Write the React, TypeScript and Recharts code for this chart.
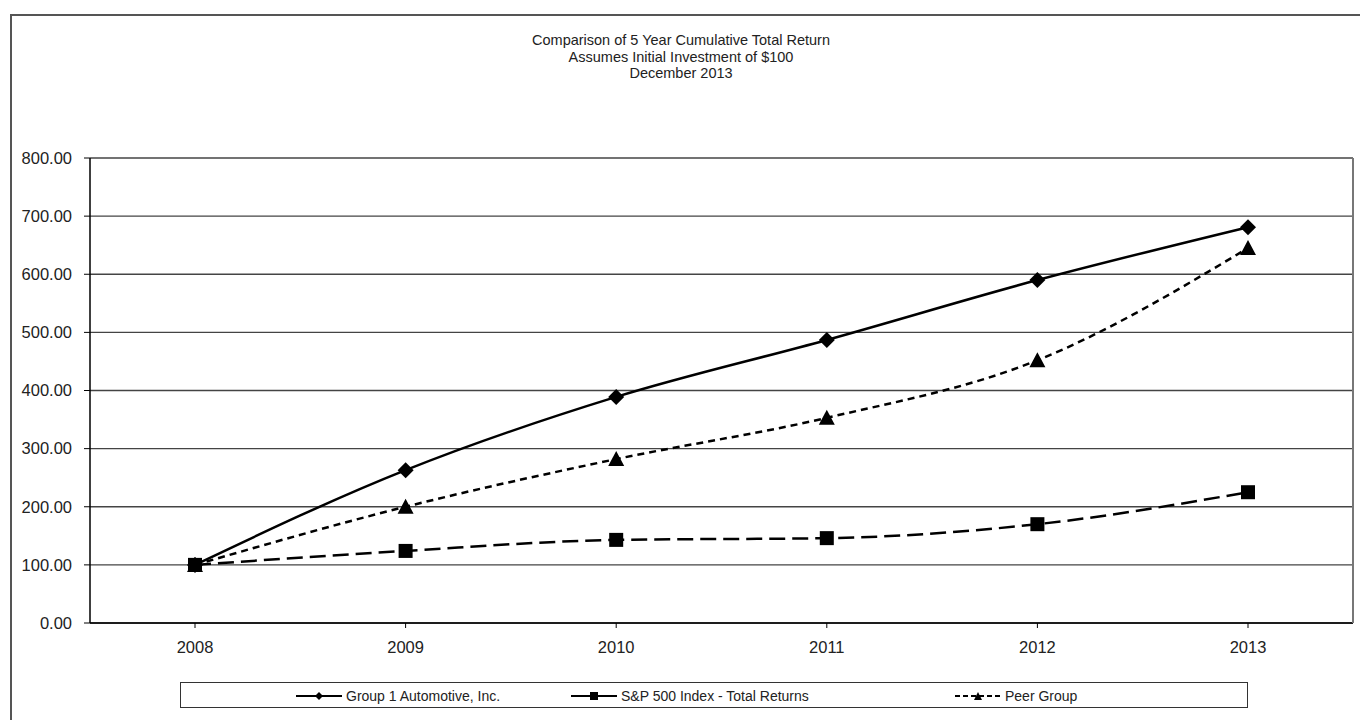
import { LineChart, Line, XAxis, YAxis, CartesianGrid } from "recharts";

const years = ["2008", "2009", "2010", "2011", "2012", "2013"];
const groupOne = [100, 263, 389, 487, 590, 681];
const sp500 = [100, 124, 143, 146, 170, 225];
const peerGroup = [100, 200, 282, 353, 452, 645];
const yTicks = [0, 100, 200, 300, 400, 500, 600, 700, 800];

const data = years.map((year, i) => ({
  year,
  group: groupOne[i],
  sp: sp500[i],
  peer: peerGroup[i],
}));

const font = "'Liberation Sans', Arial, sans-serif";

const Diamond = (props: any) => {
  const { cx, cy } = props;
  if (cx == null || cy == null) return null;
  const r = 8;
  return (
    <path
      d={`M${cx},${cy - r}L${cx + r},${cy}L${cx},${cy + r}L${cx - r},${cy}Z`}
      fill="#000"
    />
  );
};

const Square = (props: any) => {
  const { cx, cy } = props;
  if (cx == null || cy == null) return null;
  const s = 7;
  return <rect x={cx - s} y={cy - s} width={s * 2} height={s * 2} fill="#000" />;
};

const Triangle = (props: any) => {
  const { cx, cy } = props;
  if (cx == null || cy == null) return null;
  const r = 8;
  return (
    <path
      d={`M${cx},${cy - r}L${cx + r},${cy + r - 1}L${cx - r},${cy + r - 1}Z`}
      fill="#000"
    />
  );
};

const LegendSample = ({ dash, marker }: { dash?: string; marker: string }) => (
  <svg width={46} height={12} style={{ marginRight: 4 }}>
    <line x1={0} y1={6} x2={46} y2={6} stroke="#000" strokeWidth={2} strokeDasharray={dash} />
    {marker === "diamond" && <path d="M23,2L27,6L23,10L19,6Z" fill="#000" />}
    {marker === "square" && <rect x={19} y={2} width={8} height={8} fill="#000" />}
    {marker === "triangle" && <path d="M23,2L27,10L19,10Z" fill="#000" />}
  </svg>
);

export default function App() {
  return (
    <div style={{ position: "absolute", left: 0, top: 0, width: 1360, height: 720, fontFamily: font, background: "#fff" }}>
      <div
        style={{
          position: "absolute",
          left: 10,
          top: 14,
          width: 1360,
          height: 710,
          border: "2px solid #555",
          boxSizing: "border-box",
        }}
      />
      <div
        style={{
          position: "absolute",
          left: 0,
          top: 32,
          width: 1362,
          textAlign: "center",
          fontSize: 14.5,
          lineHeight: "16.5px",
          color: "#222",
        }}
      >
        <div>Comparison of 5 Year Cumulative Total Return</div>
        <div>Assumes Initial Investment of $100</div>
        <div>December 2013</div>
      </div>
      <LineChart
        width={1360}
        height={720}
        data={data}
        margin={{ top: 158, right: 6, left: 10, bottom: 67 }}
        style={{ position: "absolute", left: 0, top: 0 }}
      >
        <CartesianGrid vertical={false} stroke="#444" strokeWidth={1.3} />
        <XAxis
          dataKey="year"
          padding={{ left: 105, right: 105 }}
          axisLine={{ stroke: "#000", strokeWidth: 1.5 }}
          tickLine={{ stroke: "#000" }}
          tickSize={5}
          tickMargin={13}
          height={30}
          tick={{ fill: "#222", fontSize: 16.5, fontFamily: font }}
        />
        <YAxis
          domain={[0, 800]}
          ticks={yTicks}
          width={80}
          tickFormatter={(v: number) => v.toFixed(2)}
          axisLine={{ stroke: "#000", strokeWidth: 1.5 }}
          tickLine={{ stroke: "#000" }}
          tickSize={6}
          tickMargin={12}
          tick={{ fill: "#222", fontSize: 16.5, fontFamily: font }}
        />
        <YAxis
          yAxisId="right"
          orientation="right"
          domain={[0, 800]}
          width={1}
          tick={false}
          tickLine={false}
          axisLine={{ stroke: "#777", strokeWidth: 2 }}
        />
        <Line
          type="monotone"
          dataKey="sp"
          stroke="#000"
          strokeWidth={2.5}
          strokeDasharray="16 7"
          dot={<Square />}
          isAnimationActive={false}
        />
        <Line
          type="monotone"
          dataKey="peer"
          stroke="#000"
          strokeWidth={2.5}
          strokeDasharray="7 5"
          dot={<Triangle />}
          isAnimationActive={false}
        />
        <Line
          type="monotone"
          dataKey="group"
          stroke="#000"
          strokeWidth={2.5}
          dot={<Diamond />}
          isAnimationActive={false}
        />
      </LineChart>
      <div
        style={{
          position: "absolute",
          left: 180,
          top: 682,
          width: 1068,
          height: 26,
          border: "1.5px solid #333",
          boxSizing: "border-box",
          fontSize: 14,
          color: "#222",
        }}
      >
        <div style={{ position: "absolute", left: 115, top: 5, display: "flex", alignItems: "center" }}>
          <LegendSample marker="diamond" />
          <span>Group 1 Automotive, Inc.</span>
        </div>
        <div style={{ position: "absolute", left: 390, top: 5, display: "flex", alignItems: "center" }}>
          <LegendSample marker="square" />
          <span>S&amp;P 500 Index - Total Returns</span>
        </div>
        <div style={{ position: "absolute", left: 774, top: 5, display: "flex", alignItems: "center" }}>
          <LegendSample marker="triangle" dash="5 3" />
          <span>Peer Group</span>
        </div>
      </div>
    </div>
  );
}
